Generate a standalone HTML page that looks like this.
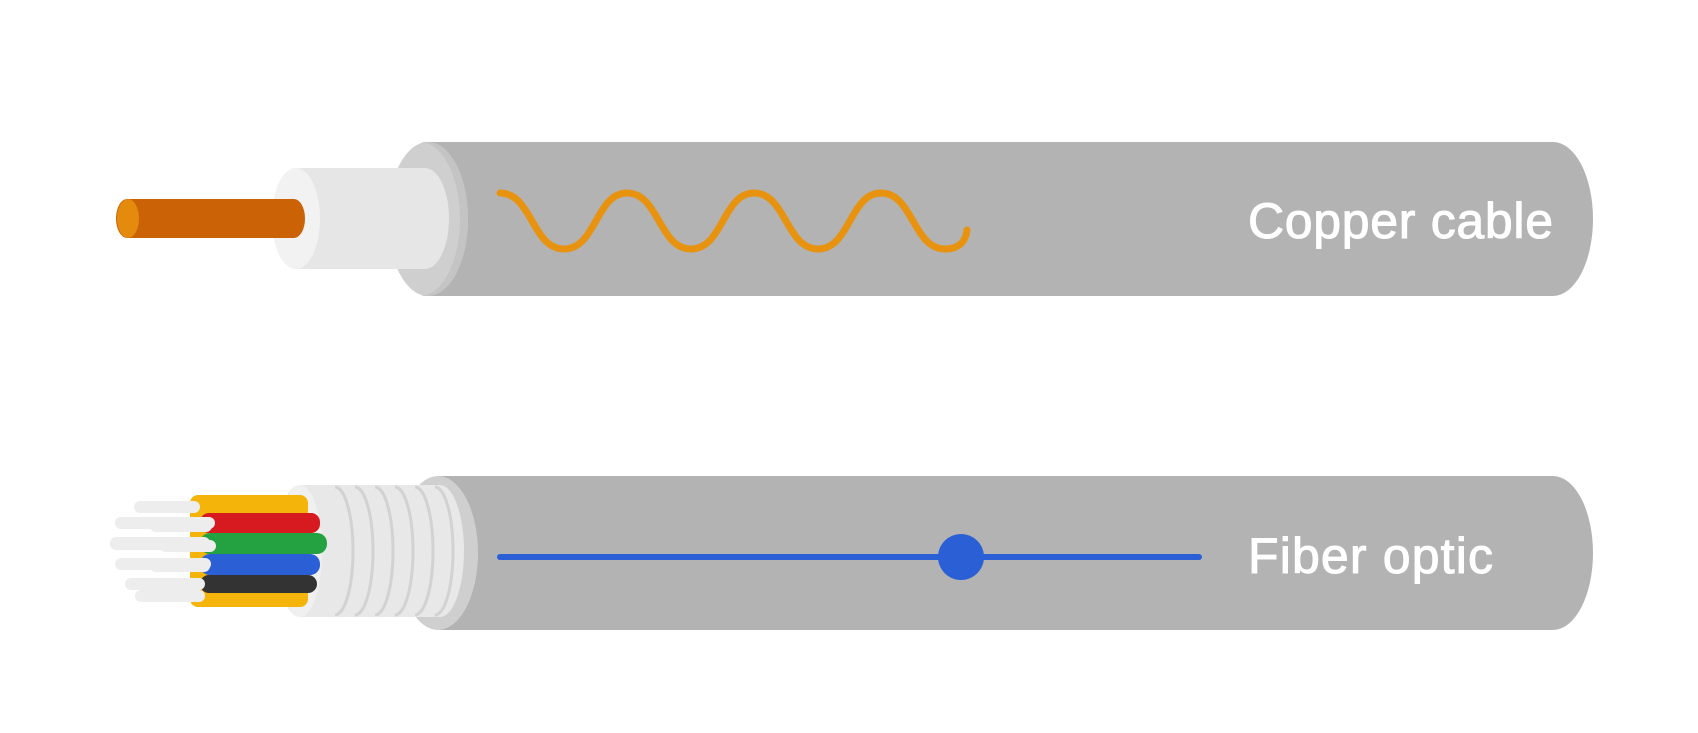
<!DOCTYPE html>
<html><head><meta charset="utf-8"><style>
html,body{margin:0;padding:0;background:#fff;}
svg{display:block}
</style></head><body>
<svg width="1698" height="733" viewBox="0 0 1698 733" xmlns="http://www.w3.org/2000/svg">
<rect width="1698" height="733" fill="#ffffff"/>
<!-- Copper cable -->
<path d="M428 142 H1553 A40 77 0 0 1 1553 296 H428 A40 77 0 0 1 428 142 Z" fill="#b3b3b3"/>
<ellipse cx="428" cy="219" rx="40" ry="77" fill="#cfcfcf"/>
<path d="M428 142 A40 77 0 0 1 428 296 L420 296 A40 77 0 0 0 420 142Z" fill="#c4c4c4"/>
<path d="M296 168 H425 A24 50.5 0 0 1 425 269 H296 A24 50.5 0 0 1 296 168 Z" fill="#e6e6e6"/>
<ellipse cx="296" cy="218.5" rx="24" ry="50.5" fill="#f2f2f2"/>
<path d="M127 199 H294 A11 19.5 0 0 1 294 238 H127 A11 19.5 0 0 1 127 199 Z" fill="#cc6206"/>
<ellipse cx="128" cy="218.5" rx="11" ry="19.5" fill="#e48a0c"/>
<path d="M500 193 C532 193 532 249 564 249 C596 249 596 193 627 193 C659 193 659 249 691 249 C723 249 723 193 754 193 C786 193 786 249 818 249 C850 249 850 193 881 193 C913 193 913 249 945 249 C960 249 966 240 967 230" fill="none" stroke="#e8930f" stroke-width="7" stroke-linecap="round"/>
<text x="1248" y="238" font-family="Liberation Sans, sans-serif" font-size="50" fill="#ffffff" stroke="#ffffff" stroke-width="1" textLength="305" lengthAdjust="spacing">Copper cable</text>

<!-- Fiber optic -->
<path d="M440 476 H1553 A40 77 0 0 1 1553 630 H440 A40 77 0 0 1 440 476 Z" fill="#b3b3b3"/>
<ellipse cx="438" cy="553" rx="40" ry="77" fill="#cfcfcf"/>
<path d="M300 485 H440 A24 66 0 0 1 440 617 H300 A24 66 0 0 1 300 485 Z" fill="#e8e8e8"/>
<g fill="none" stroke="#d2d2d2" stroke-width="3">
<path d="M335 487 A18 64 0 0 1 335 615"/>
<path d="M355 487 A18 64 0 0 1 355 615"/>
<path d="M375 487 A18 64 0 0 1 375 615"/>
<path d="M395 487 A18 64 0 0 1 395 615"/>
<path d="M415 487 A18 64 0 0 1 415 615"/>
<path d="M435 487 A18 64 0 0 1 435 615"/>
</g>
<ellipse cx="300" cy="551" rx="22" ry="66" fill="#f0f0f0"/>
<!-- tubes -->
<rect x="190" y="495" width="118" height="112" rx="8" fill="#f4b40a"/>
<rect x="200" y="513" width="120" height="20" rx="9" fill="#d71920"/>
<rect x="200" y="533" width="127" height="21" rx="10" fill="#24a140"/>
<rect x="200" y="554" width="120" height="21" rx="10" fill="#2a5fd6"/>
<rect x="200" y="575" width="117" height="18" rx="9" fill="#333333"/>
<!-- white fibers -->
<g fill="#ededed">
<rect x="134" y="501" width="66" height="12" rx="6"/>
<rect x="115" y="517" width="100" height="12" rx="6"/>
<rect x="150" y="520" width="62" height="12" rx="6"/>
<rect x="110" y="537" width="100" height="13" rx="6"/>
<rect x="160" y="540" width="56" height="12" rx="6"/>
<rect x="115" y="558" width="96" height="12" rx="6"/>
<rect x="150" y="560" width="60" height="12" rx="6"/>
<rect x="125" y="578" width="80" height="12" rx="6"/>
<rect x="135" y="590" width="70" height="12" rx="6"/>
</g>
<line x1="500" y1="557" x2="1199" y2="557" stroke="#2a5fd6" stroke-width="6" stroke-linecap="round"/>
<circle cx="961" cy="557" r="23" fill="#2a5fd6"/>
<text x="1248" y="573" font-family="Liberation Sans, sans-serif" font-size="50" fill="#ffffff" stroke="#ffffff" stroke-width="1" textLength="245" lengthAdjust="spacing">Fiber optic</text>
</svg>
</body></html>
